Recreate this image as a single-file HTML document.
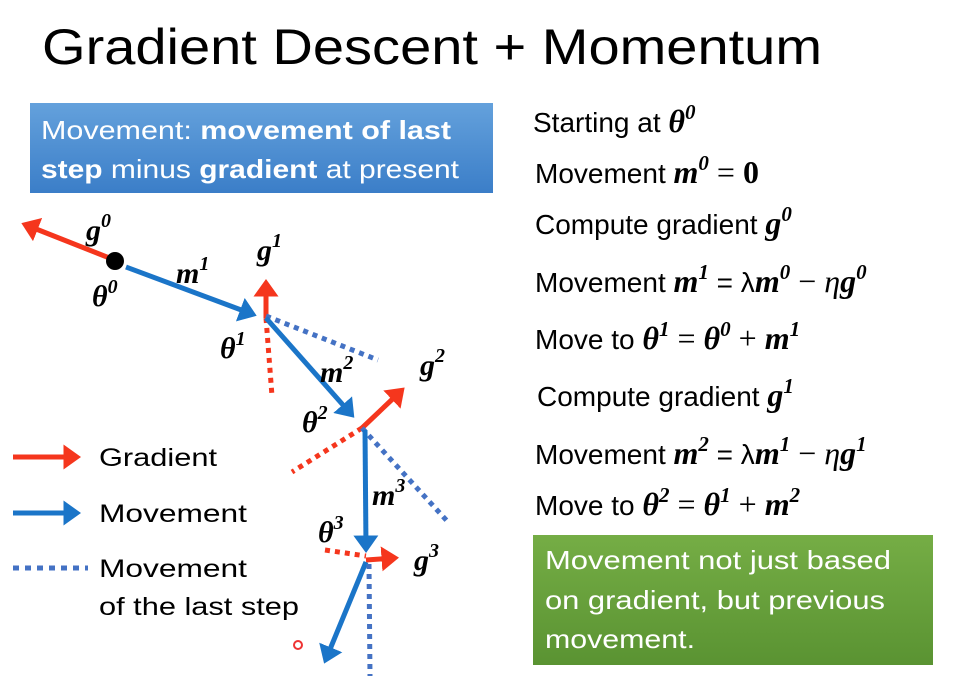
<!DOCTYPE html>
<html><head><meta charset="utf-8"><style>
html,body{margin:0;padding:0;background:#fff;}
svg{display:block;}
text{font-family:"Liberation Sans",sans-serif;}
.m{font-family:"Liberation Serif",serif;font-weight:bold;font-style:italic;}
</style></head><body>
<svg width="956" height="681" viewBox="0 0 956 681" xmlns="http://www.w3.org/2000/svg">
<defs>
<linearGradient id="bg" x1="0" y1="0" x2="0" y2="1"><stop offset="0" stop-color="#64a1dc"/><stop offset="1" stop-color="#3b7ec8"/></linearGradient>
<linearGradient id="gg" x1="0" y1="0" x2="0" y2="1"><stop offset="0" stop-color="#75ad45"/><stop offset="1" stop-color="#5a9332"/></linearGradient>
<marker id="ar" markerWidth="5" markerHeight="5" refX="2.5" refY="2.5" orient="auto" markerUnits="strokeWidth"><path d="M0,0 L3.5,2.5 L0,5 Z" fill="#f5361d"/></marker>
<marker id="ab" markerWidth="5" markerHeight="5" refX="2.5" refY="2.5" orient="auto" markerUnits="strokeWidth"><path d="M0,0 L3.5,2.5 L0,5 Z" fill="#1b75c8"/></marker>
</defs>
<text x="42" y="64" font-size="50" textLength="780" lengthAdjust="spacingAndGlyphs">Gradient Descent + Momentum</text>

<rect x="30" y="103" width="463" height="90" fill="url(#bg)"/>
<text x="41" y="139" font-size="26" fill="#fff" textLength="410" lengthAdjust="spacingAndGlyphs">Movement: <tspan font-weight="bold">movement of last</tspan></text>
<text x="41" y="178" font-size="26" fill="#fff" textLength="418" lengthAdjust="spacingAndGlyphs"><tspan font-weight="bold">step</tspan> minus <tspan font-weight="bold">gradient</tspan> at present</text>

<g stroke-width="5" fill="none">
<line x1="112" y1="259" x2="26" y2="225" stroke="#f5361d" marker-end="url(#ar)"/>
<line x1="126" y1="267" x2="252" y2="314" stroke="#1b75c8" marker-end="url(#ab)"/>
<line x1="266" y1="318" x2="266" y2="284" stroke="#f5361d" marker-end="url(#ar)"/>
<line x1="266" y1="318" x2="272" y2="396" stroke="#f5361d" stroke-dasharray="5,5"/>
<line x1="266" y1="316" x2="378" y2="360" stroke="#4472c4" stroke-dasharray="5,5"/>
<line x1="266" y1="318" x2="351" y2="414" stroke="#1b75c8" marker-end="url(#ab)"/>
<line x1="362" y1="428" x2="401" y2="391" stroke="#f5361d" marker-end="url(#ar)"/>
<line x1="362" y1="428" x2="292" y2="472" stroke="#f5361d" stroke-dasharray="5,5"/>
<line x1="362" y1="428" x2="448" y2="522" stroke="#4472c4" stroke-dasharray="5,5"/>
<line x1="365" y1="430" x2="366" y2="548" stroke="#1b75c8" marker-end="url(#ab)"/>
<line x1="366" y1="560" x2="394" y2="558" stroke="#f5361d" marker-end="url(#ar)"/>
<line x1="325" y1="550" x2="366" y2="556" stroke="#f5361d" stroke-dasharray="5,5"/>
<line x1="366" y1="562" x2="326" y2="659" stroke="#1b75c8" marker-end="url(#ab)"/>
<line x1="369" y1="564" x2="370" y2="676" stroke="#4472c4" stroke-dasharray="5,5"/>
</g>
<circle cx="115" cy="261" r="9" fill="#000"/>
<circle cx="298" cy="645" r="4" fill="none" stroke="#e33" stroke-width="2"/>

<g font-size="30">
<text x="86" y="240" class="m">g<tspan font-size="20" dy="-13">0</tspan></text>
<text x="92" y="306" class="m">θ<tspan font-size="20" dy="-13">0</tspan></text>
<text x="176" y="283" class="m">m<tspan font-size="20" dy="-13">1</tspan></text>
<text x="257" y="260" class="m">g<tspan font-size="20" dy="-13">1</tspan></text>
<text x="220" y="358" class="m">θ<tspan font-size="20" dy="-13">1</tspan></text>
<text x="320" y="382" class="m">m<tspan font-size="20" dy="-13">2</tspan></text>
<text x="420" y="375" class="m">g<tspan font-size="20" dy="-13">2</tspan></text>
<text x="302" y="432" class="m">θ<tspan font-size="20" dy="-13">2</tspan></text>
<text x="372" y="505" class="m">m<tspan font-size="20" dy="-13">3</tspan></text>
<text x="318" y="542" class="m">θ<tspan font-size="20" dy="-13">3</tspan></text>
<text x="414" y="570" class="m">g<tspan font-size="20" dy="-13">3</tspan></text>
</g>

<line x1="13" y1="457" x2="76" y2="457" stroke="#f5361d" stroke-width="5" marker-end="url(#ar)"/>
<line x1="13" y1="513" x2="76" y2="513" stroke="#1b75c8" stroke-width="5" marker-end="url(#ab)"/>
<line x1="13" y1="568" x2="88" y2="568" stroke="#4472c4" stroke-width="5" stroke-dasharray="6,6"/>
<g font-size="25">
<text x="99" y="466" textLength="118" lengthAdjust="spacingAndGlyphs">Gradient</text>
<text x="99" y="522" textLength="148" lengthAdjust="spacingAndGlyphs">Movement</text>
<text x="99" y="577" textLength="148" lengthAdjust="spacingAndGlyphs">Movement</text>
<text x="99" y="615" textLength="200" lengthAdjust="spacingAndGlyphs">of the last step</text>
</g>

<g font-size="28">
<text x="533" y="132">Starting at <tspan class="m" font-size="32">θ</tspan><tspan class="m" font-size="21" dy="-13">0</tspan></text>
<text x="535" y="183">Movement <tspan class="m" font-size="32">m</tspan><tspan class="m" font-size="21" dy="-13">0</tspan><tspan dy="13" font-family="Liberation Serif" font-size="32"> = </tspan><tspan font-family="Liberation Serif" font-weight="bold" font-size="32">0</tspan></text>
<text x="535" y="234">Compute gradient <tspan class="m" font-size="32">g</tspan><tspan class="m" font-size="21" dy="-13">0</tspan></text>
<text x="535" y="292">Movement <tspan class="m" font-size="32">m</tspan><tspan class="m" font-size="21" dy="-13">1</tspan><tspan dy="13"> = λ</tspan><tspan class="m" font-size="32">m</tspan><tspan class="m" font-size="21" dy="-13">0</tspan><tspan dy="13" font-family="Liberation Serif" font-size="32"> − </tspan><tspan font-family="Liberation Serif" font-style="italic" font-size="32">η</tspan><tspan class="m" font-size="32">g</tspan><tspan class="m" font-size="21" dy="-13">0</tspan></text>
<text x="535" y="349">Move to <tspan class="m" font-size="32">θ</tspan><tspan class="m" font-size="21" dy="-13">1</tspan><tspan dy="13" font-family="Liberation Serif" font-size="32"> = </tspan><tspan class="m" font-size="32">θ</tspan><tspan class="m" font-size="21" dy="-13">0</tspan><tspan dy="13" font-family="Liberation Serif" font-size="32"> + </tspan><tspan class="m" font-size="32">m</tspan><tspan class="m" font-size="21" dy="-13">1</tspan></text>
<text x="537" y="406">Compute gradient <tspan class="m" font-size="32">g</tspan><tspan class="m" font-size="21" dy="-13">1</tspan></text>
<text x="535" y="464">Movement <tspan class="m" font-size="32">m</tspan><tspan class="m" font-size="21" dy="-13">2</tspan><tspan dy="13"> = λ</tspan><tspan class="m" font-size="32">m</tspan><tspan class="m" font-size="21" dy="-13">1</tspan><tspan dy="13" font-family="Liberation Serif" font-size="32"> − </tspan><tspan font-family="Liberation Serif" font-style="italic" font-size="32">η</tspan><tspan class="m" font-size="32">g</tspan><tspan class="m" font-size="21" dy="-13">1</tspan></text>
<text x="535" y="515">Move to <tspan class="m" font-size="32">θ</tspan><tspan class="m" font-size="21" dy="-13">2</tspan><tspan dy="13" font-family="Liberation Serif" font-size="32"> = </tspan><tspan class="m" font-size="32">θ</tspan><tspan class="m" font-size="21" dy="-13">1</tspan><tspan dy="13" font-family="Liberation Serif" font-size="32"> + </tspan><tspan class="m" font-size="32">m</tspan><tspan class="m" font-size="21" dy="-13">2</tspan></text>
</g>

<rect x="533" y="535" width="400" height="130" fill="url(#gg)"/>
<g font-size="26" fill="#fff">
<text x="545" y="569" textLength="346" lengthAdjust="spacingAndGlyphs">Movement not just based</text>
<text x="545" y="609" textLength="340" lengthAdjust="spacingAndGlyphs">on gradient, but previous</text>
<text x="545" y="648" textLength="150" lengthAdjust="spacingAndGlyphs">movement.</text>
</g>
</svg>
</body></html>
